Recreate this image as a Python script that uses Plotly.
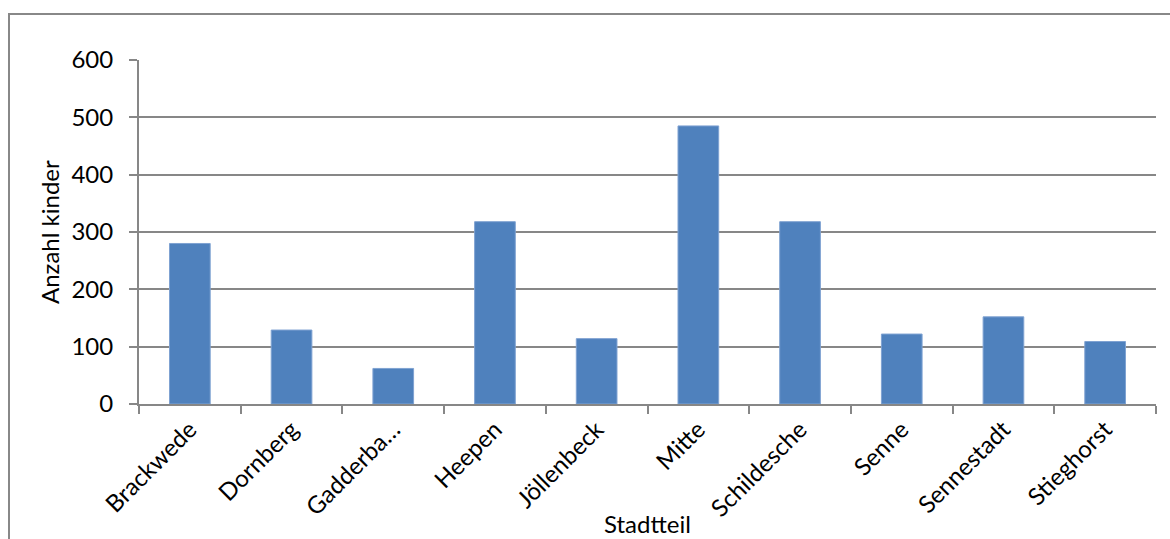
import plotly.graph_objects as go

# Number of children per district
districts = ["Brackwede", "Dornberg", "Gadderbaum", "Heepen", "Jöllenbeck",
             "Mitte", "Schildesche", "Senne", "Sennestadt", "Stieghorst"]
district_labels = ["Brackwede", "Dornberg", "Gadderba…", "Heepen", "Jöllenbeck",
                   "Mitte", "Schildesche", "Senne", "Sennestadt", "Stieghorst"]
children = [280, 129, 62, 318, 114, 485, 318, 122, 152, 109]
y_ticks = [0, 100, 200, 300, 400, 500, 600]

FONT = "Lato"
FS = 24
GRID = "#878787"
BAR = "#4F81BD"

W, H = 1170, 539
ML, MR, MT, MB = 139, 14, 60, 134.5
plot_w = W - ML - MR
plot_h = H - MT - MB

fig = go.Figure()
fig.add_trace(go.Bar(
    x=districts,
    y=children,
    width=0.4,
    marker=dict(color=BAR, line=dict(color="#7FA2D2", width=1)),
    hoverinfo="x+y",
))

fig.update_layout(
    width=W, height=H,
    margin=dict(l=ML, r=MR, t=MT, b=MB, autoexpand=False),
    paper_bgcolor="white",
    plot_bgcolor="white",
    showlegend=False,
    font=dict(family=FONT, size=FS, color="#000000"),
    bargap=0.6,
)

fig.update_xaxes(
    type="category",
    tickmode="array",
    tickvals=districts,
    ticktext=district_labels,
    tickangle=-45,
    ticks="outside",
    tickson="boundaries",
    ticklen=8,
    tickwidth=2,
    tickcolor=GRID,
    showline=True,
    linecolor=GRID,
    linewidth=2,
    showgrid=False,
    tickfont=dict(family=FONT, size=FS, color="#000000"),
    automargin=False,
)

fig.update_yaxes(
    range=[0, 600],
    tickmode="array",
    tickvals=y_ticks,
    ticks="outside",
    ticklen=8,
    tickwidth=2,
    tickcolor=GRID,
    ticklabelstandoff=11,
    showline=True,
    linecolor=GRID,
    linewidth=2,
    showgrid=True,
    gridcolor=GRID,
    gridwidth=2,
    zeroline=False,
    tickfont=dict(family=FONT, size=FS, color="#000000"),
    automargin=False,
)

# Axis titles
fig.add_annotation(
    text="Anzahl kinder", textangle=-90,
    xref="paper", yref="paper", x=0, y=0.5,
    xanchor="center", yanchor="middle", xshift=-(ML - 49),
    showarrow=False, font=dict(family=FONT, size=FS, color="#000000"),
)
fig.add_annotation(
    text="Stadtteil",
    xref="paper", yref="paper", x=0.5, y=0,
    xanchor="center", yanchor="middle", yshift=-(524 - (H - MB)),
    showarrow=False, font=dict(family=FONT, size=FS, color="#000000"),
)

# Chart area border (extends past the right and bottom edges of the view)
fig.add_shape(
    type="rect", xref="paper", yref="paper",
    x0=(9 - ML) / plot_w, x1=(W + 10 - ML) / plot_w,
    y0=-(H + 10 - (H - MB)) / plot_h, y1=((H - MB) - 14) / plot_h,
    line=dict(color="#888888", width=2), fillcolor="rgba(0,0,0,0)",
    layer="below",
)

fig.write_html("out.html")
